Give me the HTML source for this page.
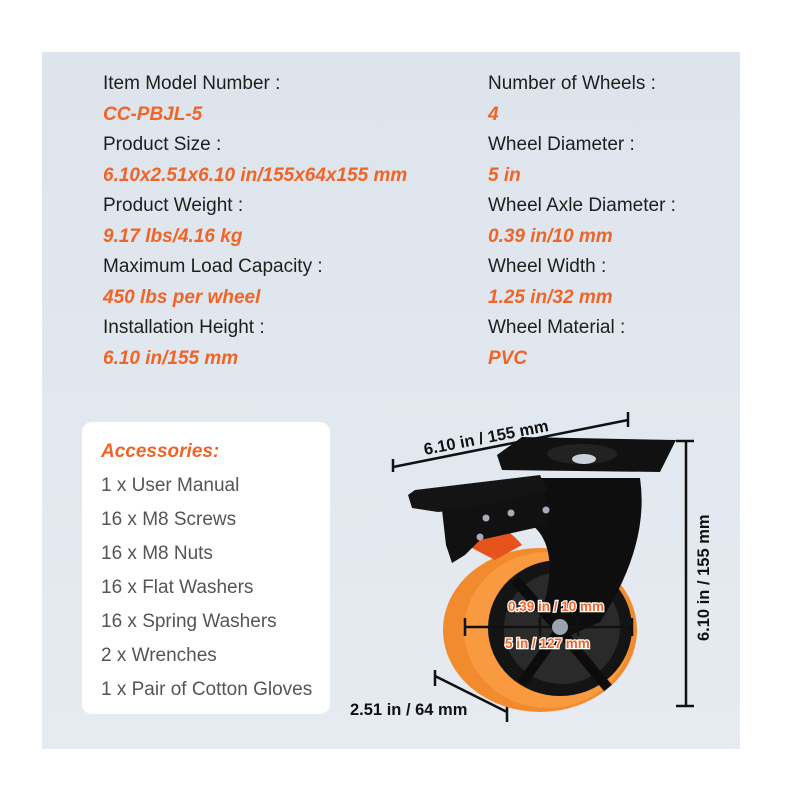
<!DOCTYPE html>
<html><head><meta charset="utf-8"><style>
*{margin:0;padding:0}
body{width:800px;height:800px;background:#fff;position:relative;overflow:hidden;font-family:"Liberation Sans",Arial,sans-serif}
#panel{position:absolute;left:42px;top:52px;width:698px;height:697px;background:linear-gradient(180deg,#dde4ec,#e6ebf1)}
.t{position:absolute;font-size:19px;color:#1e1e1e;white-space:nowrap;line-height:24px}
.o{color:#ef6427;font-weight:bold;font-style:italic}
#acc{position:absolute;left:82px;top:422px;width:248px;height:292px;background:#fff;border-radius:10px}
.a{position:absolute;left:19px;font-size:19px;color:#555;white-space:nowrap;line-height:24px}
</style></head><body>
<div id="panel"></div>
<div class="t" style="left:103px;top:72px">Item Model Number :</div>
<div class="t o" style="left:103px;top:103px">CC-PBJL-5</div>
<div class="t" style="left:103px;top:133px">Product Size :</div>
<div class="t o" style="left:103px;top:164px">6.10x2.51x6.10 in/155x64x155 mm</div>
<div class="t" style="left:103px;top:194px">Product Weight :</div>
<div class="t o" style="left:103px;top:225px">9.17 lbs/4.16 kg</div>
<div class="t" style="left:103px;top:255px">Maximum Load Capacity :</div>
<div class="t o" style="left:103px;top:286px">450 lbs per wheel</div>
<div class="t" style="left:103px;top:316px">Installation Height :</div>
<div class="t o" style="left:103px;top:347px">6.10 in/155 mm</div>

<div class="t" style="left:488px;top:72px">Number of Wheels :</div>
<div class="t o" style="left:488px;top:103px">4</div>
<div class="t" style="left:488px;top:133px">Wheel Diameter :</div>
<div class="t o" style="left:488px;top:164px">5 in</div>
<div class="t" style="left:488px;top:194px">Wheel Axle Diameter :</div>
<div class="t o" style="left:488px;top:225px">0.39 in/10 mm</div>
<div class="t" style="left:488px;top:255px">Wheel Width :</div>
<div class="t o" style="left:488px;top:286px">1.25 in/32 mm</div>
<div class="t" style="left:488px;top:316px">Wheel Material :</div>
<div class="t o" style="left:488px;top:347px">PVC</div>

<div id="acc">
<div class="a o" style="top:18px;color:#ef6427">Accessories:</div>
<div class="a" style="top:52px">1 x User Manual</div>
<div class="a" style="top:86px">16 x M8 Screws</div>
<div class="a" style="top:120px">16 x M8 Nuts</div>
<div class="a" style="top:154px">16 x Flat Washers</div>
<div class="a" style="top:188px">16 x Spring Washers</div>
<div class="a" style="top:222px">2 x Wrenches</div>
<div class="a" style="top:256px">1 x Pair of Cotton Gloves</div>
</div>

<svg style="position:absolute;left:0;top:0" width="800" height="800">
<g stroke="#111" stroke-width="2.5" fill="none">
<line x1="393" y1="467" x2="628" y2="420"/><line x1="393" y1="459" x2="393" y2="472"/><line x1="628" y1="412" x2="628" y2="427"/>
<line x1="686" y1="441" x2="686" y2="706"/><line x1="676" y1="441" x2="694" y2="441"/><line x1="676" y1="706" x2="694" y2="706"/>
<line x1="435" y1="676" x2="507" y2="712"/><line x1="435" y1="670" x2="435" y2="686"/><line x1="507" y1="702" x2="507" y2="722"/>
</g>
<text x="425" y="455" font-size="16.5" font-weight="bold" fill="#111" transform="rotate(-11 425 455)">6.10 in / 155 mm</text>
<text x="709" y="641" font-size="16.5" font-weight="bold" fill="#111" transform="rotate(-90 709 641)">6.10 in / 155 mm</text>
<text x="350" y="715" font-size="16.5" font-weight="bold" fill="#111">2.51 in / 64 mm</text>
<ellipse cx="540" cy="630" rx="97" ry="82" fill="#f28a2e"/>
<ellipse cx="548" cy="630" rx="84" ry="78" fill="#f99a40"/>
<ellipse cx="560" cy="628" rx="72" ry="68" fill="#141414"/>
<ellipse cx="562" cy="628" rx="58" ry="56" fill="#2a2a2a"/>
<g stroke="#0c0c0c" stroke-width="10"><line x1="560" y1="630" x2="515" y2="580"/><line x1="560" y1="630" x2="608" y2="688"/><line x1="560" y1="630" x2="522" y2="683"/><line x1="560" y1="630" x2="612" y2="585"/></g>
<path d="M525 478 L640 478 Q650 545 600 622 L560 640 L545 600 Q560 540 525 520 Z" fill="#0e0e0e"/>
<path d="M468 522 Q500 518 522 545 L495 560 L472 548 Z" fill="#e6531d"/>
<path d="M408 495 L415 490 L540 475 L548 492 L520 500 L478 508 L438 512 L412 508 Z" fill="#141414"/>
<path d="M442 510 L500 502 L545 490 L548 525 L480 540 L465 555 L452 563 L446 545 Z" fill="#111"/>
<circle cx="486" cy="518" r="3.5" fill="#aab"/><circle cx="511" cy="513" r="3.5" fill="#aab"/><circle cx="546" cy="510" r="3.5" fill="#aab"/><circle cx="480" cy="537" r="3.5" fill="#aab"/>
<path d="M497 455 L522 437 L676 440 L660 472 L502 470 Z" fill="#111"/>
<ellipse cx="582" cy="454" rx="35" ry="10" fill="#222"/>
<ellipse cx="584" cy="459" rx="12" ry="5" fill="#c8d2dc"/>
<g stroke="#111" stroke-width="2.5"><line x1="465" y1="627" x2="632" y2="627"/><line x1="465" y1="618" x2="465" y2="636"/><line x1="632" y1="618" x2="632" y2="636"/><line x1="540" y1="617" x2="540" y2="636"/><line x1="578" y1="617" x2="578" y2="636"/></g>
<circle cx="560" cy="627" r="8" fill="#9aa4ae"/>
<g font-size="13.5" font-weight="bold" fill="#ef6427" stroke="#fff" stroke-width="2.5" paint-order="stroke">
<text x="508" y="611">0.39 in / 10 mm</text>
<text x="505" y="648">5 in / 127 mm</text>
</g>
</svg>
</body></html>
